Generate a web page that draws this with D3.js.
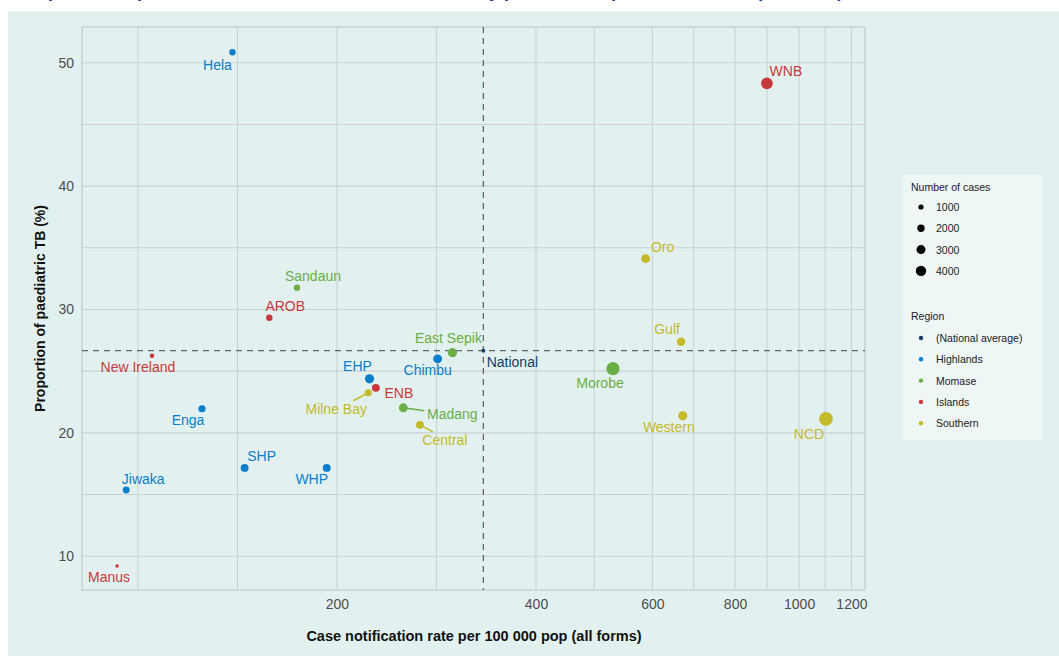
<!DOCTYPE html>
<html>
<head>
<meta charset="utf-8">
<script src="https://cdn.jsdelivr.net/npm/d3@7"></script>
<style>
  body { margin: 0; background: #fff; font-family: "Liberation Sans", Arial, sans-serif; }
</style>
</head>
<body>
<div id="chart"></div>
<script>
// provinces
const provinces = ["Hela", "Sandaun", "AROB", "New Ireland", "Enga", "Jiwaka", "Manus", "SHP", "WHP",
    "EHP", "ENB", "Milne Bay", "Madang", "Central", "Chimbu", "East Sepik", "Morobe", "Oro", "Gulf",
    "Western", "NCD", "WNB"]
const provRegion = ["Highlands", "Momase", "Islands", "Islands", "Highlands", "Highlands", "Islands", "Highlands", "Highlands",
    "Highlands", "Islands", "Southern", "Momase", "Southern", "Highlands", "Momase", "Momase", "Southern", "Southern",
    "Southern", "Southern", "Islands"]
const notifRate = [139, 174, 158, 105, 125, 96, 93, 145, 193,
    224, 229, 223, 252, 267, 284, 299, 523, 586, 663,
    667, 1098, 894]
const paedPct = [50.85, 31.77, 29.33, 26.25, 21.95, 15.37, 9.2, 17.16, 17.16,
    24.38, 23.65, 23.25, 22.03, 20.65, 26.0, 26.5, 25.2, 34.12, 27.39,
    21.38, 21.14, 48.33]
const numCases = [1500, 1500, 1500, 750, 1900, 1750, 460, 2300, 2300,
    3100, 2300, 1900, 2900, 2300, 2900, 3100, 6400, 2900, 2600,
    3100, 7000, 5100]

const nationalRate = 333
const nationalPct = 26.66

const regions = ["(National average)", "Highlands", "Momase", "Islands", "Southern"]
const regionColors = ["#123f5f", "#0a7dcb", "#6aae45", "#c7383c", "#c4ba2a"]

const xTicks = [200, 400, 600, 800, 1000, 1200]
const yTicks = [10, 20, 30, 40, 50]
const caseLegend = [1000, 2000, 3000, 4000]

// where each province label sits relative to its point (ggrepel style)
const labelPos = {
    "Hela": [-15, 13], "Sandaun": [16, -12], "AROB": [16, -12], "New Ireland": [-14, 11],
    "Enga": [-14, 11], "Jiwaka": [17, -11], "Manus": [-8, 11], "SHP": [17, -12], "WHP": [-15, 11],
    "EHP": [-12, -13], "ENB": [23, 5], "Milne Bay": [-32, 16, -15, 8], "Madang": [49, 6, 21, 3],
    "Central": [25, 15, 13, 7], "Chimbu": [-10, 11], "East Sepik": [-4, -15], "Morobe": [-13, 14],
    "Oro": [17, -12], "Gulf": [-14, -13], "Western": [-14, 11], "NCD": [-17, 15], "WNB": [19, -12]
}

const W = 1059, H = 662
const plot = { left: 82, right: 865, top: 27, bottom: 590 }

const svg = d3.select("#chart").append("svg")
    .attr("width", W).attr("height", H)

// title (cut off in the reference, only the descenders show)
svg.append("text")
    .attr("x", 18).attr("y", -3)
    .attr("fill", "#1f3a93").attr("font-size", 18).attr("font-weight", "bold")
    .text("Proportion of paediatric TB and case notification rate by province, Papua New Guinea (all forms)")

svg.append("rect")
    .attr("x", 8).attr("y", 11).attr("width", W - 8).attr("height", 645)
    .attr("fill", "#e2f1f0")

const x = d3.scaleLog().domain([82.3, 1258]).range([plot.left, plot.right])
const y = d3.scaleLinear().domain([7.26, 52.9]).range([plot.bottom, plot.top])
const size = d3.scaleSqrt().domain([0, 4000]).range([0, 5.2])
const color = d3.scaleOrdinal().domain(regions).range(regionColors)

// grid: ggplot style minor breaks halfway (in log space) between the majors
const xExt = [xTicks[0] * xTicks[0] / xTicks[1]].concat(xTicks)
const xGrid = xExt.slice()
for (let i = 0; i < xExt.length - 1; i++) xGrid.push(Math.sqrt(xExt[i] * xExt[i + 1]))
const yGrid = yTicks.slice()
for (let i = 0; i < yTicks.length; i++) yGrid.push(yTicks[i] + 5)

const grid = svg.append("g")
grid.selectAll(".vg").data(xGrid.filter(d => x(d) > plot.left && x(d) < plot.right))
    .enter().append("line")
    .attr("x1", d => x(d)).attr("x2", d => x(d))
    .attr("y1", plot.top).attr("y2", plot.bottom)
    .attr("stroke", "#cdd1d4").attr("stroke-width", 1.1)
grid.selectAll(".hg").data(yGrid.filter(d => y(d) > plot.top && y(d) < plot.bottom))
    .enter().append("line")
    .attr("x1", plot.left).attr("x2", plot.right)
    .attr("y1", d => y(d)).attr("y2", d => y(d))
    .attr("stroke", "#cdd1d4").attr("stroke-width", 1.1)

svg.append("rect")
    .attr("x", plot.left).attr("y", plot.top)
    .attr("width", plot.right - plot.left).attr("height", plot.bottom - plot.top)
    .attr("fill", "none").attr("stroke", "#c6cbce").attr("stroke-width", 1.2)

// national average reference lines
svg.append("line")
    .attr("x1", x(nationalRate)).attr("x2", x(nationalRate))
    .attr("y1", plot.top).attr("y2", plot.bottom)
    .attr("stroke", "#666").attr("stroke-width", 1.3).attr("stroke-dasharray", "6,5")
svg.append("line")
    .attr("x1", plot.left).attr("x2", plot.right)
    .attr("y1", y(nationalPct)).attr("y2", y(nationalPct))
    .attr("stroke", "#666").attr("stroke-width", 1.3).attr("stroke-dasharray", "6,5")

// axes
const xAxis = svg.append("g")
    .attr("transform", "translate(0," + plot.bottom + ")")
    .call(d3.axisBottom(x).tickValues(xTicks).tickFormat(d3.format("d")).tickSize(0).tickPadding(9))
const yAxis = svg.append("g")
    .attr("transform", "translate(" + plot.left + ",0)")
    .call(d3.axisLeft(y).tickValues(yTicks).tickSize(0).tickPadding(8))
;[xAxis, yAxis].forEach(a => {
    a.select(".domain").remove()
    a.selectAll("text").attr("font-size", 14).attr("fill", "#4d4d4d")
        .attr("font-family", "'Liberation Sans', Arial, sans-serif")
})

svg.append("text")
    .attr("x", 474).attr("y", 641)
    .attr("text-anchor", "middle").attr("font-size", 14.5).attr("font-weight", "bold").attr("fill", "#111")
    .text("Case notification rate per 100 000 pop (all forms)")
svg.append("text")
    .attr("transform", "translate(45," + ((plot.top + plot.bottom) / 2) + ") rotate(-90)")
    .attr("text-anchor", "middle").attr("font-size", 14).attr("font-weight", "bold").attr("fill", "#111")
    .text("Proportion of paediatric TB (%)")

// data rows
const data = provinces.map((p, i) => ({
    name: p, region: provRegion[i], rate: notifRate[i], pct: paedPct[i], cases: numCases[i]
}))

// label segments first so the points draw over them
svg.selectAll(".seg").data(data.filter(d => labelPos[d.name].length > 2))
    .enter().append("line")
    .attr("x1", d => x(d.rate)).attr("y1", d => y(d.pct))
    .attr("x2", d => x(d.rate) + labelPos[d.name][2]).attr("y2", d => y(d.pct) + labelPos[d.name][3])
    .attr("stroke", d => color(d.region)).attr("stroke-width", 1.5)

svg.selectAll(".pt").data(data).enter().append("circle")
    .attr("cx", d => x(d.rate)).attr("cy", d => y(d.pct))
    .attr("r", d => size(d.cases))
    .attr("fill", d => color(d.region))

svg.selectAll(".lab").data(data).enter().append("text")
    .attr("x", d => x(d.rate) + labelPos[d.name][0])
    .attr("y", d => y(d.pct) + labelPos[d.name][1])
    .attr("text-anchor", "middle").attr("dominant-baseline", "central")
    .attr("font-size", 14).attr("fill", d => color(d.region))
    .text(d => d.name)

// national point
svg.append("circle")
    .attr("cx", x(nationalRate)).attr("cy", y(nationalPct)).attr("r", 2)
    .attr("fill", color("(National average)"))
svg.append("text")
    .attr("x", x(nationalRate) + 29).attr("y", y(nationalPct) + 11)
    .attr("text-anchor", "middle").attr("dominant-baseline", "central")
    .attr("font-size", 14).attr("fill", color("(National average)"))
    .text("National")

// legend
const lg = svg.append("g").attr("transform", "translate(903,175)")
lg.append("rect").attr("width", 139).attr("height", 265).attr("fill", "#eef6f6")
lg.append("text").attr("x", 8).attr("y", 16).attr("font-size", 10.5).attr("fill", "#222")
    .text("Number of cases")
caseLegend.forEach((c, i) => {
    lg.append("circle").attr("cx", 18).attr("cy", 32 + i * 21.3).attr("r", size(c)).attr("fill", "#000")
    lg.append("text").attr("x", 33).attr("y", 32 + i * 21.3).attr("dominant-baseline", "central")
        .attr("font-size", 10.5).attr("fill", "#222").text(c)
})
lg.append("text").attr("x", 8).attr("y", 145).attr("font-size", 10.5).attr("fill", "#222")
    .text("Region")
regions.forEach((r, i) => {
    lg.append("circle").attr("cx", 18).attr("cy", 163 + i * 21.3).attr("r", 2.2).attr("fill", color(r))
    lg.append("text").attr("x", 33).attr("y", 163 + i * 21.3).attr("dominant-baseline", "central")
        .attr("font-size", 10.5).attr("fill", "#222").text(r)
})
</script>
</body>
</html>
